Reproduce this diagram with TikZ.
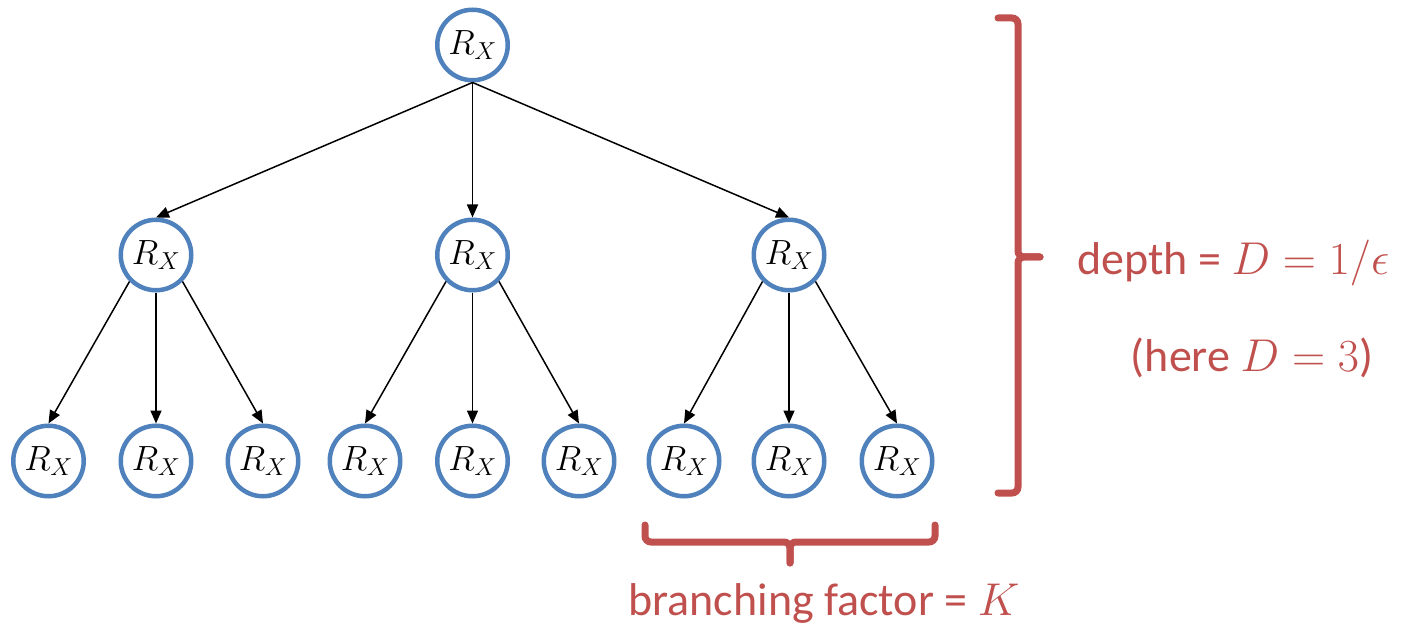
\RequirePackage{fix-cm}
\documentclass[tikz,border=0pt]{standalone}
\usepackage{fontspec}
\newfontfamily\labelfont{Carlito}
\usetikzlibrary{arrows.meta}
\definecolor{nodeblue}{RGB}{79,129,189}
\definecolor{notered}{RGB}{192,80,77}
\tikzset{
  rx/.style={circle, draw=nodeblue, line width=4.5pt, fill=white,
    minimum size=70.5pt, inner sep=0pt,
    font=\fontsize{35}{40}\selectfont},
  edge/.style={line width=1.5pt, -{Triangle[length=13pt, width=11pt]}},
  bracepath/.style={draw=notered, line width=7pt, rounded corners=6pt, line cap=round},
  note/.style={text=notered, font=\labelfont\fontsize{46}{52}\selectfont, inner sep=0pt}
}
\begin{document}
\begin{tikzpicture}[x=1pt, y=-1pt]
\useasboundingbox (0,0) rectangle (1418,628);

% root
\node[rx] (r) at (472.5,45) {$R_X$};
% second level
\node[rx] (a) at (156,255) {$R_X$};
\node[rx] (b) at (472.5,255) {$R_X$};
\node[rx] (c) at (789,255) {$R_X$};
% leaves
\node[rx] (a1) at (48.5,461) {$R_X$};
\node[rx] (a2) at (156,461) {$R_X$};
\node[rx] (a3) at (263,461) {$R_X$};
\node[rx] (b1) at (365,461) {$R_X$};
\node[rx] (b2) at (472.5,461) {$R_X$};
\node[rx] (b3) at (579,461) {$R_X$};
\node[rx] (c1) at (684,461) {$R_X$};
\node[rx] (c2) at (789,461) {$R_X$};
\node[rx] (c3) at (897,461) {$R_X$};

% edges from the root
\draw[edge] (r.south) -- (a.north);
\draw[edge] (r.south) -- (b.north);
\draw[edge] (r.south) -- (c.north);
% edges to the leaves
\foreach \p in {a,b,c}{
  \draw[edge] (\p.-135) -- (\p1.north);
  \draw[edge] (\p.south) -- (\p2.north);
  \draw[edge] (\p.-45) -- (\p3.north);
}

% depth brace
\coordinate (dt) at (998,18);
\coordinate (db) at (998,493);
\coordinate (dtip) at (1040,257);
\draw[bracepath] (dt) -- (1018,18) -- (1018,257) -- (dtip);
\draw[bracepath] (db) -- (1018,493) -- (1018,257) -- (dtip);
\node[note, anchor=base west] (depth) at (1077,274) {depth = $D=1/\epsilon$};
\node[note, anchor=base] (here) at (1252,371) {(here $D=3$)};

% branching brace
\coordinate (bl) at (645,525);
\coordinate (br) at (935,525);
\coordinate (btip) at (790,563);
\draw[bracepath] (bl) -- (645,542) -- (790,542) -- (btip);
\draw[bracepath] (br) -- (935,542) -- (790,542) -- (btip);
\node[note, anchor=base] (branch) at (824,615) {branching factor = $K$};
\end{tikzpicture}
\end{document}
